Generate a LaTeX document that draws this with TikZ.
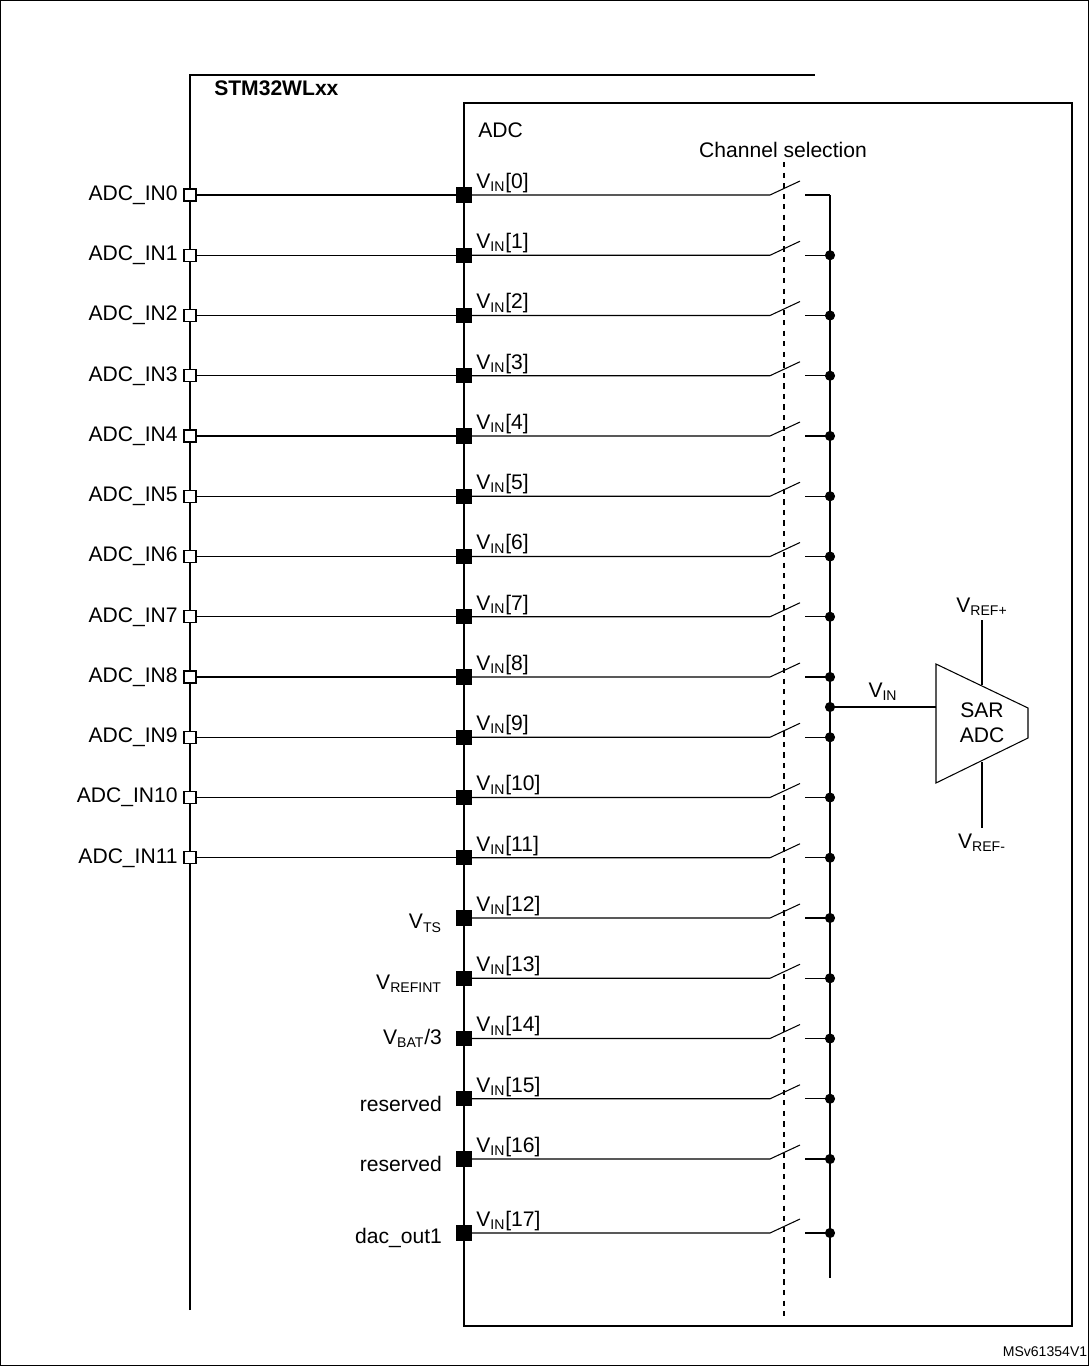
\documentclass[tikz,border=0pt]{standalone}
\usepackage{fontspec}
\setmainfont{Liberation Sans}
\usetikzlibrary{positioning}
\newcommand{\sub}[1]{\textsubscript{\footnotesize #1}}

\begin{document}
\begin{tikzpicture}[x=0.02cm, y=-0.02cm, line width=0.6pt,
  every node/.style={font=\fontsize{12}{14}\selectfont, inner sep=1pt},
  pin/.style={draw, fill=white, minimum size=0.24cm, inner sep=0pt},
  pad/.style={draw, fill=black, minimum size=0.28cm, inner sep=0pt},
  dot/.style={circle, draw, fill=black, minimum size=0.18cm, inner sep=0pt}]
  \useasboundingbox (0,0) rectangle (1089,1366);
  \draw[line width=0.4pt] (0.5,0.5) rectangle (1088.5,1365.5);

  % device and ADC frames
  \draw[line width=1.3pt] (190,1310) -- (190,75) -- (815,75);
  \node[anchor=west, font=\fontsize{12}{14}\selectfont\bfseries] (dev) at (212,88) {STM32WLxx};
  \draw (464,103) rectangle (1072,1326);
  \node[anchor=west] (adc) at (476,130) {ADC};
  \node (chsel) at (783,150) {Channel selection};
  \draw[dashed] (784,162) -- (784,1318);
  \coordinate (busT) at (830,195);
  \coordinate (busB) at (830,1278);
  \draw (busT) -- (busB);

  % channels
  \foreach \i in {0,...,17} {
    \pgfmathsetmacro{\yy}{\i<17 ? 195+60.25*\i : 1233}
    \coordinate (sw\i) at (770,\yy);
    \coordinate (swe\i) at (805,\yy);
    \coordinate (bus\i) at (830,\yy);
    \node[pad] (pad\i) at (464,\yy) {};
    \node[anchor=south west] (vin\i) at (474,\yy) {V\sub{IN}[\i]};
    \draw (pad\i) -- (sw\i) -- ++(30,-14);
    \draw (swe\i) -- (bus\i);
  }
  \foreach \i in {0,...,11} {
    \node[pin] (pin\i) at (190,195+60.25*\i) {};
    \node[anchor=east, inner sep=3pt] (lbl\i) at (pin\i.west) {ADC\_IN\i};
    \draw (pin\i) -- (pad\i);
  }
  \foreach \i in {1,...,17}
    \node[dot] at (bus\i) {};

  % internal sources
  \node[anchor=east, inner sep=8pt, yshift=-3pt] at (pad12.west) {V\sub{TS}};
  \node[anchor=east, inner sep=8pt, yshift=-3pt] at (pad13.west) {V\sub{REFINT}};
  \node[anchor=east, inner sep=8pt] at (pad14.west) {V\sub{BAT}/3};
  \node[anchor=east, inner sep=8pt, yshift=-3pt] at (pad15.west) {reserved};
  \node[anchor=east, inner sep=8pt, yshift=-3pt] at (pad16.west) {reserved};
  \node[anchor=east, inner sep=8pt, yshift=-3pt] at (pad17.west) {dac\_out1};

  % SAR ADC
  \draw (936,664) -- (1028,708) -- (1028,738) -- (936,783) -- cycle;
  \node[align=center] (sar) at (982,723) {SAR\\ADC};
  \node[dot] (vtap) at (830,707) {};
  \coordinate (sarin) at (936,707);
  \draw (vtap) -- (sarin);
  \node (vinl) at (883,692) {V\sub{IN}};
  \node (refp) at (982,607) {V\sub{REF+}};
  \node (refm) at (982,843) {V\sub{REF-}};
  \draw (982,620) -- (982,685);
  \draw (982,762) -- (982,828);

  \node[font=\fontsize{8}{9}\selectfont] (id) at (1045,1352) {MSv61354V1};
\end{tikzpicture}
\end{document}
